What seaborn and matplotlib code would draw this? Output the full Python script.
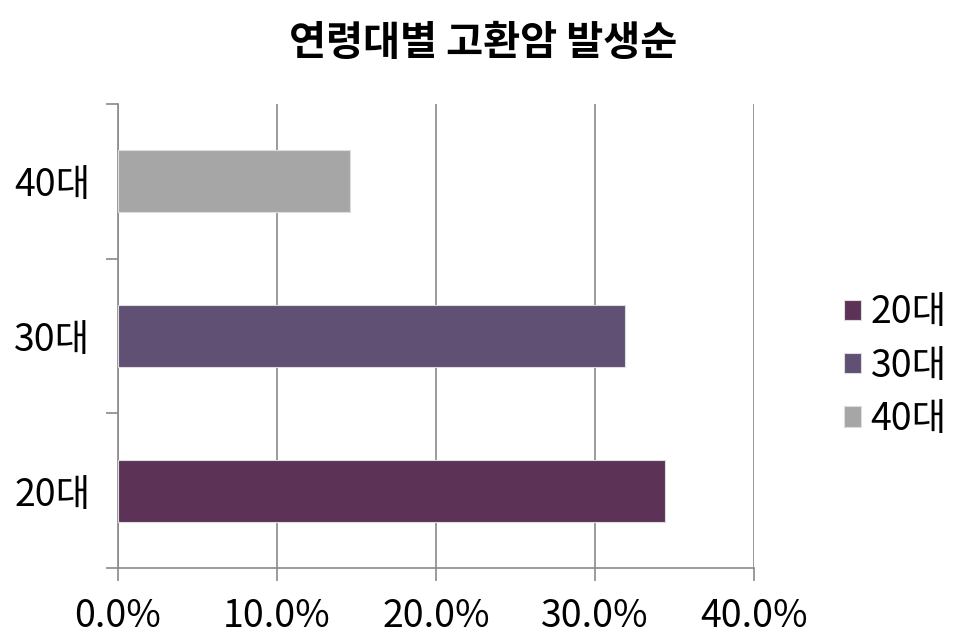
import numpy as np
import pandas as pd
import seaborn as sns
import matplotlib.pyplot as plt
from matplotlib.ticker import FuncFormatter, FixedLocator

# 데이터
ages = ["20대", "30대", "40대"]
rates = [34.4, 31.9, 14.6]
colors = ["#632C5B", "#5F4A7A", "#A6A6A6"]

df = pd.DataFrame({"age": ages, "rate": rates})

sns.set_style("white")
plt.rcParams["font.family"] = ["Noto Sans CJK KR", "DejaVu Sans"]
plt.rcParams["text.color"] = "black"
plt.rcParams["xtick.color"] = "black"
plt.rcParams["ytick.color"] = "black"

fig = plt.figure(figsize=(9.66, 6.44), dpi=100)
ax = fig.add_axes([0.1222, 0.118, 0.6583, 0.7205])

sns.barplot(data=df, y="age", x="rate", hue="age", order=ages[::-1], hue_order=ages,
            palette=colors, dodge=False, width=0.4, orient="h",
            edgecolor="#dddddd", linewidth=0.8, ax=ax, legend=True, zorder=3)

ax.set_xlim(0, 40)
ax.set_ylim(2.5, -0.5)
ax.set_xticks([0, 10, 20, 30, 40])
ax.xaxis.set_major_formatter(FuncFormatter(lambda v, p: f"{v:.1f}%"))
ax.grid(axis="x", color="#8a8a8a", linewidth=1.2, zorder=0)
ax.grid(axis="y", visible=False)

ax.yaxis.set_minor_locator(FixedLocator([-0.5, 0.5, 1.5, 2.5]))
ax.tick_params(axis="y", which="major", left=True, length=0, pad=20, labelsize=27,
               labelcolor="black")
ax.tick_params(axis="y", which="minor", left=True, length=9, color="#8a8a8a",
               width=1.2, direction="out")
ax.tick_params(axis="x", bottom=True, length=9, color="#8a8a8a", width=1.2,
               direction="out", pad=12, labelsize=27, labelcolor="black")
ax.set_xlabel("")
ax.set_ylabel("")

for s in ["top", "right"]:
    ax.spines[s].set_visible(False)
for s in ["left", "bottom"]:
    ax.spines[s].set_color("#8a8a8a")
    ax.spines[s].set_linewidth(1.2)

leg = ax.legend(loc="center left", bbox_to_anchor=(1.089, 0.435), frameon=False,
                fontsize=27, handlelength=0.45, handleheight=0.45,
                handletextpad=0.25, labelspacing=0.38)

fig.suptitle("연령대별 고환암 발생순", fontsize=29, fontweight="bold", y=0.965)

fig.savefig("out.png", dpi=100)
